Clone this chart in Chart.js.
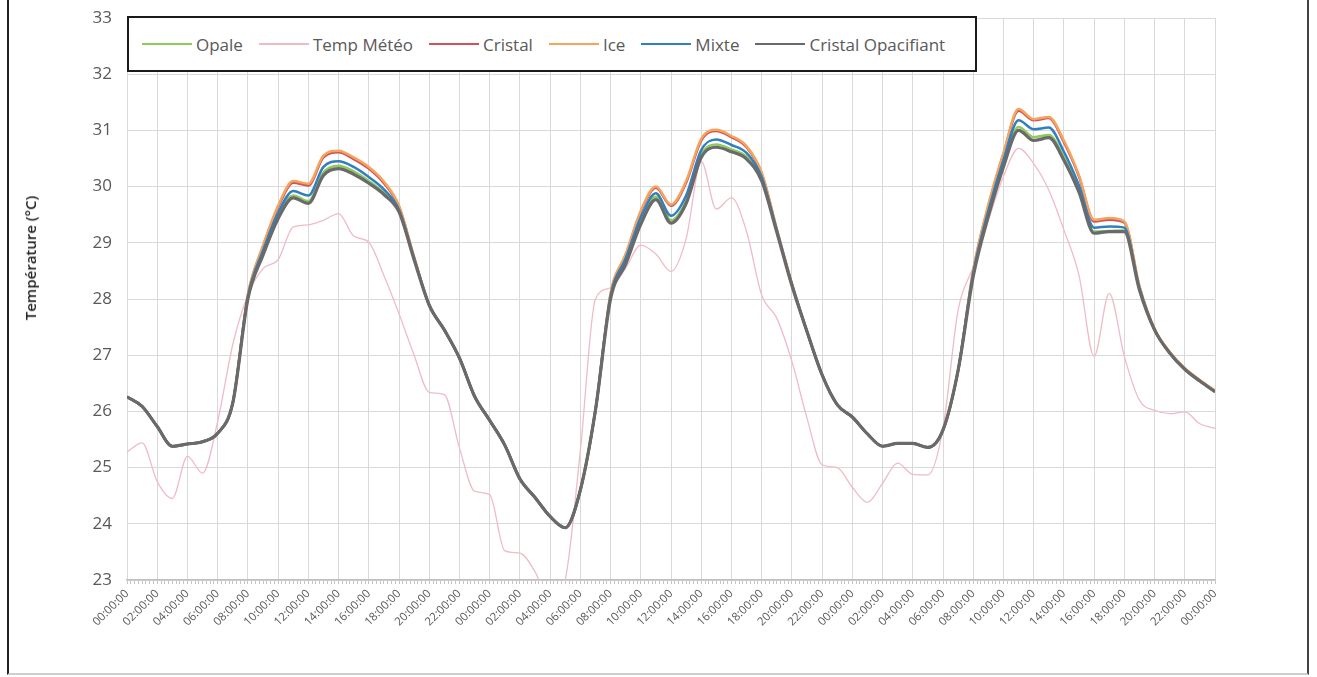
<!DOCTYPE html>
<html>
<head>
<meta charset="utf-8">
<script src="https://cdn.jsdelivr.net/npm/chart.js@4.4.1/dist/chart.umd.min.js"></script>
<style>
    html, body { margin: 0; padding: 0; background: #fff; }
    #wrap { position: relative; width: 1317px; height: 677px; overflow: hidden; }
    #frame { position: absolute; left: 7px; top: -3px; width: 1298px; height: 676px; border-left: 2px solid #222; border-right: 2px solid #444; border-bottom: 2px solid #cfcfcf; }
    #chart { position: absolute; left: 0; top: 0; }
    #legend { position: absolute; left: 127px; top: 16px; width: 850px; height: 56px; box-sizing: border-box; border: 2px solid #1a1a1a; background: #fff; display: flex; align-items: center; padding-left: 13px; font: 17px 'Open Sans', sans-serif; color: #595959; white-space: nowrap; }
    #legend .item { display: flex; align-items: center; margin-right: 16px; }
    #legend .swatch { width: 50px; margin-right: 4px; }
    #ytitle { position: absolute; left: 30px; top: 258px; transform: translate(-50%, -50%) rotate(-90deg); font: 600 15px 'Open Sans', sans-serif; color: #262626; white-space: nowrap; }
</style>
</head>
<body>
<div id="wrap">
    <div id="frame"></div>
    <canvas id="chart" width="1317" height="677"></canvas>
    <div id="legend"></div>
    <div id="ytitle">Température (°C)</div>
</div>
<script>
// heures depuis le début de la mesure (3 jours)
const hours = [0, 1, 2, 3, 4, 5, 6, 7, 8, 9, 10, 11, 12, 13, 14, 15, 16, 17, 18, 19, 20, 21, 22, 23,
    24, 25, 26, 27, 28, 29, 30, 31, 32, 33, 34, 35, 36, 37, 38, 39, 40, 41, 42, 43, 44, 45, 46, 47,
    48, 49, 50, 51, 52, 53, 54, 55, 56, 57, 58, 59, 60, 61, 62, 63, 64, 65, 66, 67, 68, 69, 70, 71, 72];

const tickLabels = ['00:00:00', '02:00:00', '04:00:00', '06:00:00', '08:00:00', '10:00:00', '12:00:00', '14:00:00', '16:00:00', '18:00:00', '20:00:00', '22:00:00',
    '00:00:00', '02:00:00', '04:00:00', '06:00:00', '08:00:00', '10:00:00', '12:00:00', '14:00:00', '16:00:00', '18:00:00', '20:00:00', '22:00:00',
    '00:00:00', '02:00:00', '04:00:00', '06:00:00', '08:00:00', '10:00:00', '12:00:00', '14:00:00', '16:00:00', '18:00:00', '20:00:00', '22:00:00',
    '00:00:00'];

const opale = [26.26, 26.09, 25.73, 25.38, 25.42, 25.46, 25.61, 26.15, 28.02, 28.82, 29.48, 29.84, 29.74, 30.25, 30.37, 30.27, 30.10, 29.89, 29.57, 28.71, 27.89, 27.45, 26.95, 26.27,
    25.84, 25.40, 24.80, 24.47, 24.13, 23.93, 24.60, 26.02, 28.03, 28.66, 29.38, 29.82, 29.40, 29.75, 30.57, 30.75, 30.66, 30.53, 30.13, 29.20, 28.25, 27.42, 26.65, 26.12,
    25.90, 25.60, 25.38, 25.43, 25.43, 25.36, 25.67, 26.73, 28.43, 29.52, 30.40, 31.06, 30.88, 30.92, 30.52, 29.94, 29.20, 29.21, 29.22, 28.17, 27.45, 27.04, 26.75, 26.54, 26.35];

const tempMeteo = [25.28, 25.44, 24.75, 24.45, 25.20, 24.90, 25.82, 27.19, 28.07, 28.54, 28.70, 29.28, 29.32, 29.40, 29.52, 29.12, 29.01, 28.42, 27.74, 27.00, 26.34, 26.30, 25.35, 24.58,
    24.52, 23.52, 23.48, 23.15, 22.60, 23.00, 25.30, 28.00, 28.20, 28.55, 28.96, 28.80, 28.49, 29.07, 30.45, 29.60, 29.80, 29.20, 28.07, 27.66, 26.89, 25.88, 25.05, 25.00,
    24.65, 24.38, 24.72, 25.08, 24.88, 24.87, 25.70, 27.80, 28.57, 29.40, 30.18, 30.68, 30.41, 29.94, 29.23, 28.42, 26.98, 28.10, 26.98, 26.20, 26.02, 25.96, 25.99, 25.78, 25.70];

const cristal = [26.26, 26.09, 25.73, 25.38, 25.42, 25.46, 25.61, 26.15, 28.07, 28.93, 29.63, 30.07, 30.02, 30.52, 30.61, 30.49, 30.32, 30.06, 29.64, 28.74, 27.89, 27.45, 26.95, 26.27,
    25.84, 25.40, 24.80, 24.47, 24.13, 23.93, 24.60, 26.02, 28.08, 28.77, 29.55, 29.98, 29.66, 30.07, 30.82, 30.99, 30.88, 30.70, 30.23, 29.24, 28.27, 27.42, 26.65, 26.12,
    25.90, 25.60, 25.38, 25.43, 25.43, 25.36, 25.67, 26.73, 28.50, 29.65, 30.58, 31.35, 31.18, 31.22, 30.79, 30.18, 29.38, 29.41, 29.36, 28.22, 27.46, 27.05, 26.76, 26.55, 26.36];

const ice = [26.26, 26.09, 25.73, 25.38, 25.42, 25.46, 25.61, 26.15, 28.08, 28.95, 29.66, 30.10, 30.05, 30.55, 30.64, 30.52, 30.35, 30.09, 29.66, 28.75, 27.90, 27.45, 26.95, 26.27,
    25.84, 25.40, 24.80, 24.47, 24.13, 23.93, 24.60, 26.02, 28.10, 28.80, 29.57, 30.00, 29.68, 30.10, 30.85, 31.01, 30.90, 30.72, 30.25, 29.25, 28.28, 27.43, 26.65, 26.12,
    25.90, 25.60, 25.38, 25.43, 25.43, 25.36, 25.67, 26.73, 28.52, 29.68, 30.60, 31.38, 31.20, 31.24, 30.82, 30.20, 29.41, 29.44, 29.38, 28.23, 27.47, 27.06, 26.77, 26.56, 26.37];

const mixte = [26.26, 26.09, 25.73, 25.38, 25.42, 25.46, 25.61, 26.15, 28.04, 28.86, 29.53, 29.92, 29.84, 30.35, 30.45, 30.35, 30.17, 29.95, 29.59, 28.72, 27.89, 27.45, 26.95, 26.27,
    25.84, 25.40, 24.80, 24.47, 24.13, 23.93, 24.60, 26.02, 28.05, 28.72, 29.45, 29.88, 29.48, 29.84, 30.65, 30.84, 30.74, 30.60, 30.17, 29.22, 28.26, 27.42, 26.65, 26.12,
    25.90, 25.60, 25.38, 25.43, 25.43, 25.36, 25.67, 26.73, 28.46, 29.57, 30.47, 31.18, 31.02, 31.05, 30.62, 30.02, 29.27, 29.29, 29.27, 28.19, 27.45, 27.04, 26.75, 26.54, 26.35];

const cristalOpacifiant = [26.26, 26.09, 25.73, 25.38, 25.42, 25.46, 25.61, 26.15, 28.00, 28.78, 29.43, 29.80, 29.70, 30.20, 30.32, 30.22, 30.06, 29.86, 29.55, 28.70, 27.89, 27.45, 26.95, 26.27,
    25.84, 25.40, 24.80, 24.47, 24.13, 23.93, 24.60, 26.02, 28.00, 28.62, 29.33, 29.77, 29.35, 29.70, 30.52, 30.70, 30.62, 30.49, 30.10, 29.19, 28.24, 27.42, 26.65, 26.12,
    25.90, 25.60, 25.38, 25.43, 25.43, 25.36, 25.67, 26.73, 28.40, 29.47, 30.35, 31.00, 30.82, 30.87, 30.47, 29.90, 29.17, 29.20, 29.20, 28.16, 27.45, 27.04, 26.75, 26.54, 26.35];

const seriesNames = ['Opale', 'Temp Météo', 'Cristal', 'Ice', 'Mixte', 'Cristal Opacifiant'];
const seriesValues = [opale, tempMeteo, cristal, ice, mixte, cristalOpacifiant];

const couleurs = ['#8fcb5c', '#efbcc6', '#cf535b', '#f4a45c', '#2f7fc1', '#6a6a6a'];
const epaisseurs = [2.5, 1.3, 2.5, 2.5, 2.5, 3.2];
// ordre d'affichage : la dernière série passe au-dessus (comme dans Excel)
const ordres = [6, 5, 4, 3, 2, 1];

const datasets = seriesNames.map((nom, i) => ({
    label: nom,
    data: hours.map((h, j) => ({ x: h, y: seriesValues[i][j] })),
    borderColor: couleurs[i],
    backgroundColor: couleurs[i],
    borderWidth: epaisseurs[i],
    pointRadius: 0,
    cubicInterpolationMode: 'monotone',
    order: ordres[i]
}));

new Chart(document.getElementById('chart'), {
    type: 'line',
    data: { datasets },
    options: {
        responsive: false,
        animation: false,
        layout: { padding: { left: 0, right: 102, top: 18, bottom: 0 } },
        plugins: {
            legend: { display: false },
            tooltip: { enabled: false }
        },
        scales: {
            x: {
                type: 'linear',
                min: 0,
                max: 72,
                ticks: {
                    stepSize: 0.25,
                    autoSkip: false,
                    minRotation: 45,
                    maxRotation: 45,
                    padding: 3,
                    color: '#595959',
                    font: { family: 'Open Sans', size: 11.5 },
                    callback(value) {
                        return value % 2 === 0 ? tickLabels[value / 2] : '';
                    }
                },
                grid: {
                    color(ctx) {
                        return ctx.tick && ctx.tick.value % 2 === 0 ? '#d9d9d9' : 'rgba(0,0,0,0)';
                    },
                    tickColor: '#c4c4c4',
                    tickLength: 4
                },
                border: { color: '#bfbfbf', width: 1.5 },
                afterFit(scale) { scale.height = 97; }
            },
            y: {
                min: 23,
                max: 33,
                ticks: {
                    stepSize: 1,
                    padding: 3,
                    color: '#595959',
                    font: { family: 'Open Sans', size: 17 }
                },
                grid: { color: '#d9d9d9', tickColor: 'rgba(0,0,0,0)', tickLength: 12 },
                border: { display: false },
                afterFit(scale) { scale.width = 127; }
            }
        }
    }
});

// légende encadrée, placée dans la zone du graphique
const legend = document.getElementById('legend');
seriesNames.forEach((nom, i) => {
    const item = document.createElement('div');
    item.className = 'item';
    const trait = document.createElement('span');
    trait.className = 'swatch';
    trait.style.height = (i === 1 ? 1.5 : 2.5) + 'px';
    trait.style.background = couleurs[i];
    const texte = document.createElement('span');
    texte.textContent = nom;
    item.appendChild(trait);
    item.appendChild(texte);
    legend.appendChild(item);
});
</script>
</body>
</html>
